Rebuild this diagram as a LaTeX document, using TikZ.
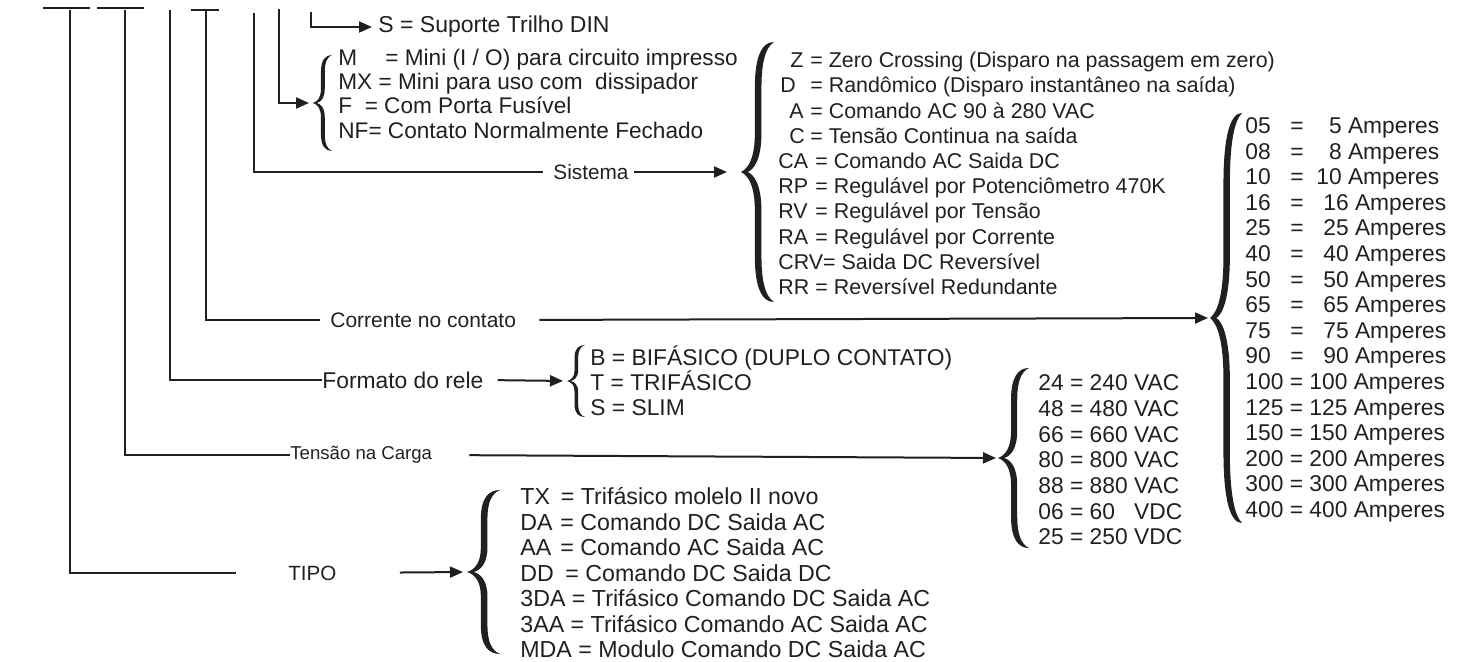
\documentclass[tikz,border=0pt]{standalone}
\usepackage{fontspec}
\setmainfont{Liberation Sans}
\usepackage{graphicx}
\usetikzlibrary{arrows.meta}

\definecolor{tinta}{RGB}{35,31,32}

\tikzset{
  fio/.style={line width=1.3pt},
  seta/.style={line width=1pt,-{Triangle[length=6.5pt,width=5.5pt]}},
  rot/.style={inner sep=0pt,anchor=west},
  lista/.style={inner sep=0pt,anchor=west,align=left},
  chave/.pic={
    \fill (0,0) .. controls (0.25,0.03) and (0.42,0.12) .. (0.42,0.3)
      -- (0.42,0.65) .. controls (0.42,0.9) and (0.65,1) .. (1,1)
      .. controls (0.75,0.96) and (0.62,0.85) .. (0.62,0.65)
      -- (0.62,0.3) .. controls (0.62,0.1) and (0.4,0.02) .. (0.2,0)
      .. controls (0.4,-0.02) and (0.62,-0.1) .. (0.62,-0.3)
      -- (0.62,-0.65) .. controls (0.62,-0.85) and (0.75,-0.96) .. (1,-1)
      .. controls (0.65,-1) and (0.42,-0.9) .. (0.42,-0.65)
      -- (0.42,-0.3) .. controls (0.42,-0.12) and (0.25,-0.03) .. (0,0) -- cycle;
    \coordinate (-tip) at (0,0);
  }
}

\begin{document}
\begin{tikzpicture}[x=0.5pt,y=-0.5pt,color=tinta]
\useasboundingbox (0,0) rectangle (1461,662);

% tracos do codigo
\draw[fio] (43,8) -- (90,8);
\draw[fio] (97,8) -- (144,8);
\draw[fio] (191,10) -- (219,10);

\coordinate (c1) at (70,10);
\coordinate (c2) at (125,10);
\coordinate (c3) at (170,10);
\coordinate (c4) at (206,10);
\coordinate (c5) at (254,13);
\coordinate (c6) at (279,9);
\coordinate (c7) at (311,12);

% chaves
\pic[xscale=19,yscale=48] (cm) at (313,103) {chave};
\pic[xscale=33,yscale=130] (cs) at (741,172) {chave};
\pic[xscale=18,yscale=36] (cb) at (567,381) {chave};
\pic[xscale=31,yscale=90] (cv) at (998,458) {chave};
\pic[xscale=33,yscale=82] (ct) at (467,572) {chave};
\pic[xscale=32,yscale=205] (ca) at (1210,318) {chave};

% rotulos
\node[rot,font=\fontsize{10.3}{12}\selectfont] (tipo) at (288,573) {TIPO};
\node[rot,font=\fontsize{9.3}{11}\selectfont] (tensao) at (290,455) {Tensão na Carga};
\node[rot,font=\fontsize{11.4}{13}\selectfont] (formato) at (322,380) {Formato do rele};
\node[rot,font=\fontsize{10.5}{12}\selectfont] (corrente) at (330,320) {Corrente no contato};
\node[rot,font=\fontsize{10.4}{12}\selectfont] (sistema) at (553,172) {Sistema};
\node[rot,font=\fontsize{11.5}{13}\selectfont] (suporte) at (378,27) {S = Suporte Trilho DIN};

% listas
\node[lista,font=\fontsize{11.3}{12.15}\selectfont] (mini) at (338,93.5) {\makebox[23.5pt][l]{M}= Mini (I / O) para circuito impresso\\
MX = Mini para uso com\ \ dissipador\\
F\ \ = Com Porta Fusível\\
NF= Contato Normalmente Fechado};

\node[lista,font=\fontsize{10.7}{12.6}\selectfont] (sist) at (778,173.5) {\hspace*{6pt}\makebox[10pt][l]{Z}= Zero Crossing (Disparo na passagem em zero)\\
\hspace*{1pt}\makebox[15pt][l]{D}= Randômico (Disparo instantâneo na saída)\\
\hspace*{5.5pt}\makebox[10.5pt][l]{A}= Comando AC 90 à 280 VAC\\
\hspace*{5.5pt}\makebox[10.5pt][l]{C}= Tensão Continua na saída\\
\makebox[18.5pt][l]{CA}= Comando AC Saida DC\\
\makebox[18.5pt][l]{RP}= Regulável por Potenciômetro 470K\\
\makebox[18.5pt][l]{RV}= Regulável por Tensão\\
\makebox[18.5pt][l]{RA}= Regulável por Corrente\\
CRV= Saida DC Reversível\\
\makebox[18.5pt][l]{RR}= Reversível Redundante};

\node[lista,font=\fontsize{11.4}{12.5}\selectfont] (fases) at (590,381) {B = BIFÁSICO (DUPLO CONTATO)\\
T = TRIFÁSICO\\
S = SLIM};

\node[lista,font=\fontsize{11.4}{12.83}\selectfont] (volts) at (1038,460) {24 = 240 VAC\\
48 = 480 VAC\\
66 = 660 VAC\\
80 = 800 VAC\\
88 = 880 VAC\\
06 = 60\phantom{0} VDC\\
25 = 250 VDC};

\node[lista,font=\fontsize{11.6}{12.75}\selectfont] (tipos) at (520,573) {\makebox[17pt][l]{TX}\ = Trifásico molelo II novo\\
\makebox[20pt][l]{DA}= Comando DC Saida AC\\
\makebox[20pt][l]{AA}= Comando AC Saida AC\\
\makebox[22.5pt][l]{DD}= Comando DC Saida DC\\
3DA = Trifásico Comando DC Saida AC\\
3AA = Trifásico Comando AC Saida AC\\
MDA = Modulo Comando DC Saida AC};

\node[lista,font=\fontsize{11.4}{12.8}\selectfont] (amps) at (1245,320) {\makebox[22.5pt][l]{05}=\makebox[19pt][r]{5} Amperes\\
\makebox[22.5pt][l]{08}=\makebox[19pt][r]{8} Amperes\\
\makebox[22.5pt][l]{10}=\makebox[19pt][r]{10} Amperes\\
\makebox[22.5pt][l]{16}=\makebox[22.5pt][r]{16} Amperes\\
\makebox[22.5pt][l]{25}=\makebox[22.5pt][r]{25} Amperes\\
\makebox[22.5pt][l]{40}=\makebox[22.5pt][r]{40} Amperes\\
\makebox[22.5pt][l]{50}=\makebox[22.5pt][r]{50} Amperes\\
\makebox[22.5pt][l]{65}=\makebox[22.5pt][r]{65} Amperes\\
\makebox[22.5pt][l]{75}=\makebox[22.5pt][r]{75} Amperes\\
\makebox[22.5pt][l]{90}=\makebox[22.5pt][r]{90} Amperes\\
100 = 100 Amperes\\
125 = 125 Amperes\\
150 = 150 Amperes\\
200 = 200 Amperes\\
300 = 300 Amperes\\
400 = 400 Amperes};

% ligacoes
\draw[fio,shorten >=26pt] (c1) |- (tipo.west);
\draw[fio] (c2) |- (tensao.west);
\draw[fio] (c3) |- (formato.west);
\draw[fio,shorten >=5pt] (c4) |- (corrente.west);
\draw[fio,shorten >=5pt] (c5) |- (sistema.west);
\draw[fio,seta,shorten >=2pt] (c6) |- (cm-tip);
\draw[fio,seta,shorten >=3pt] (c7) |- (suporte.west);

\draw[seta,shorten <=31.5pt,shorten >=2pt] (tipo.east) -- (ct-tip);
\draw[seta,shorten <=18.5pt,shorten >=1pt] (tensao.east) -- (cv-tip);
\draw[seta,shorten <=7pt,shorten >=2pt] (formato.east) -- (cb-tip);
\draw[seta,shorten <=11.5pt,shorten >=1pt] (corrente.east) -- (ca-tip);
\draw[seta,shorten <=2.5pt,shorten >=7pt] (sistema.east) -- (cs-tip);
\end{tikzpicture}
\end{document}
